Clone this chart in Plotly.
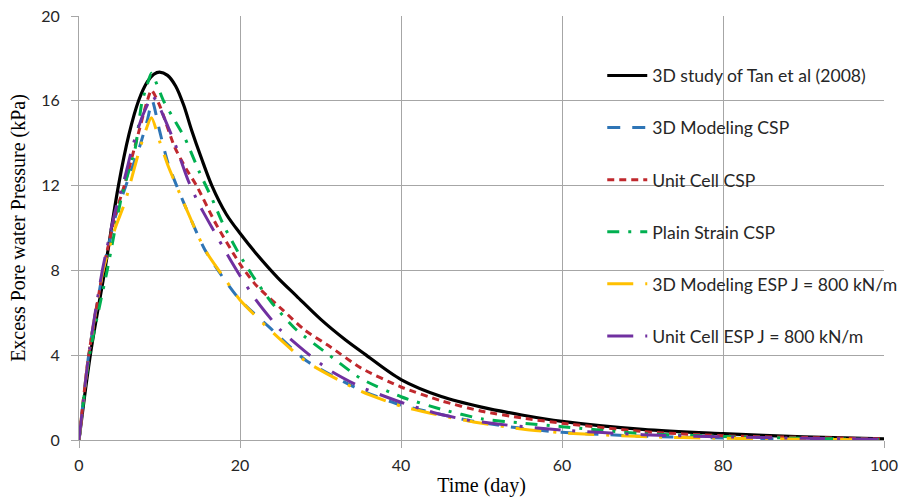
import plotly.graph_objects as go

# ---- data ----
tan_t = [0, 1.4, 3.2, 4.9, 6.2, 7.4, 8.5, 9.3, 10, 11, 12, 13, 14, 15.2, 16.5, 18.3, 20, 22, 24.7,
         27, 30, 33, 35.5, 40, 45, 50, 55, 60, 70, 80, 90, 100]
tan_v = [0, 4, 8, 12, 14.4, 16, 16.9, 17.25, 17.35, 17.2, 16.7, 15.8, 14.6, 13.3, 12, 10.65, 9.75, 8.8, 7.65,
         6.8, 5.7, 4.75, 4.05, 2.85, 2.05, 1.55, 1.18, 0.88, 0.5, 0.3, 0.15, 0.05]

m3d_csp_t = [0, 1.2, 3, 4.5, 6.1, 7.5, 8.5, 9.1, 10, 11.1, 13, 15.6, 18, 20, 23.7, 28.2, 35, 40, 45, 49,
             55, 60, 70, 80, 90, 100]
m3d_csp_v = [0, 4, 8, 10.5, 12.3, 13.8, 15.1, 16.0, 14.6, 13.0, 11.2, 9.0, 7.6, 6.6, 5.3, 3.75, 2.35, 1.65,
             1.2, 0.88, 0.55, 0.36, 0.18, 0.09, 0.04, 0.0]

uc_csp_t = [0, 1.2, 3, 4.5, 5.7, 7.4, 8.4, 9, 10, 11.9, 13.3, 14.6, 17, 20, 22, 25.4, 28, 31.2, 35, 40,
            45, 50, 55, 60, 70, 80, 90, 100]
uc_csp_v = [0, 4, 8, 10.6, 12.1, 14.5, 15.9, 16.5, 15.8, 13.8, 12.8, 12.0, 10.2, 8.3, 7.3, 6.1, 5.2, 4.4,
            3.4, 2.5, 1.85, 1.36, 1.04, 0.79, 0.4, 0.2, 0.12, 0.05]

ps_csp_t = [0, 1.3, 3.5, 5.3, 7, 7.8, 8.5, 9, 10.5, 12, 13.2, 15, 16.5, 18, 20, 22, 24.1, 27, 31.1, 35,
            40, 45, 50, 55, 60, 70, 80, 90, 100]
ps_csp_v = [0, 4, 8, 11.5, 13.8, 15.9, 16.8, 17.3, 16.0, 15.0, 14.2, 12.6, 11.4, 10.1, 8.7, 7.5, 6.4, 5.2,
            4.0, 2.9, 2.04, 1.45, 1.0, 0.8, 0.63, 0.3, 0.17, 0.08, 0.02]

m3d_esp_t = [0, 1.2, 3, 4.5, 5.7, 7.6, 9, 10, 11.1, 13, 15.6, 18.3, 20, 23.7, 28.2, 35, 40, 45, 49, 55,
             60, 70, 80, 90, 100]
m3d_esp_v = [0, 4, 8, 10, 11.2, 13.8, 15.2, 14.1, 12.9, 11.2, 9.0, 7.5, 6.6, 5.2, 3.7, 2.3, 1.6, 1.15,
             0.85, 0.52, 0.34, 0.16, 0.08, 0.04, 0.0]

uc_esp_t = [0, 1.2, 2.9, 4.5, 5.7, 6.7, 7.8, 8.6, 9.1, 10, 11.9, 13.5, 14.8, 16.1, 18.8, 20, 22, 25, 28,
            31.1, 35, 40, 44, 48, 52, 60, 70, 80, 90, 100]
uc_esp_v = [0, 4, 8, 10.8, 12.4, 13.9, 15.2, 15.9, 16.25, 15.7, 14.0, 12.3, 11.2, 10.3, 8.5, 7.75, 6.6,
            5.2, 4.2, 3.3, 2.5, 1.78, 1.3, 0.96, 0.75, 0.47, 0.25, 0.15, 0.08, 0.03]

names = ["3D study of Tan et al (2008)", "3D Modeling CSP", "Unit Cell CSP", "Plain Strain CSP",
         "3D Modeling ESP J = 800 kN/m", "Unit Cell ESP J = 800 kN/m"]
x_ticks = [0, 20, 40, 60, 80, 100]
y_ticks = [0, 4, 8, 12, 16, 20]

series = [(tan_t, tan_v), (m3d_csp_t, m3d_csp_v), (uc_csp_t, uc_csp_v), (ps_csp_t, ps_csp_v),
          (m3d_esp_t, m3d_esp_v), (uc_esp_t, uc_esp_v)]
colors = ["#000000", "#2E75B6", "#C0282D", "#00B050", "#FFC000", "#7030A0"]
dashes = ["solid", "13px,12px", "7px,5px", "12px,9px,3px,9px", "26px,12px,3px,12px", "26px,12px,3px,12px"]
widths = [3.2, 3, 3, 3, 3, 3]
smooth = [0.9, 0.6, 0.6, 0.6, 0.6, 0.6]

fig = go.Figure()
for i, ((t, v), n) in enumerate(zip(series, names)):
    fig.add_trace(go.Scatter(x=t, y=v, name=n, mode="lines", legendgroup=f"g{i}",
                             line=dict(color=colors[i], dash=dashes[i], width=widths[i], shape="spline",
                                       smoothing=smooth[i])))

grid = "#A6A6A6"
fig.update_layout(
    width=905, height=497,
    margin=dict(l=79, r=21, t=16, b=57, autoexpand=False),
    paper_bgcolor="white", plot_bgcolor="white",
    showlegend=True,
    legend=dict(x=0.65, y=0.902, xanchor="left", yanchor="top", bgcolor="rgba(0,0,0,0)",
                font=dict(family="Lato", size=17.6, color="#262626"), tracegroupgap=26.2,
                itemwidth=40),
    font=dict(family="Liberation Serif", color="black"),
)
fig.update_xaxes(range=[0, 100], tickvals=x_ticks, showgrid=True, gridcolor=grid, gridwidth=1,
                 showline=True, linecolor=grid, linewidth=1, mirror=False, zeroline=False,
                 ticks="outside", ticklen=7, tickcolor=grid, automargin=False, ticklabelstandoff=4,
                 tickfont=dict(family="Lato", size=16, color="#262626"),
                 title=dict(text="Time (day)", font=dict(family="Liberation Serif", size=20), standoff=4))
fig.update_yaxes(range=[0, 20], tickvals=y_ticks, showgrid=True, gridcolor=grid, gridwidth=1,
                 showline=True, linecolor=grid, linewidth=1, zeroline=False,
                 ticks="outside", ticklen=7, tickcolor=grid, automargin=False, ticklabelstandoff=8,
                 tickfont=dict(family="Lato", size=16, color="#262626"),
                 title=dict(text="Excess Pore water Pressure (kPa)",
                            font=dict(family="Liberation Serif", size=20), standoff=10))

fig.write_html("out.html")
